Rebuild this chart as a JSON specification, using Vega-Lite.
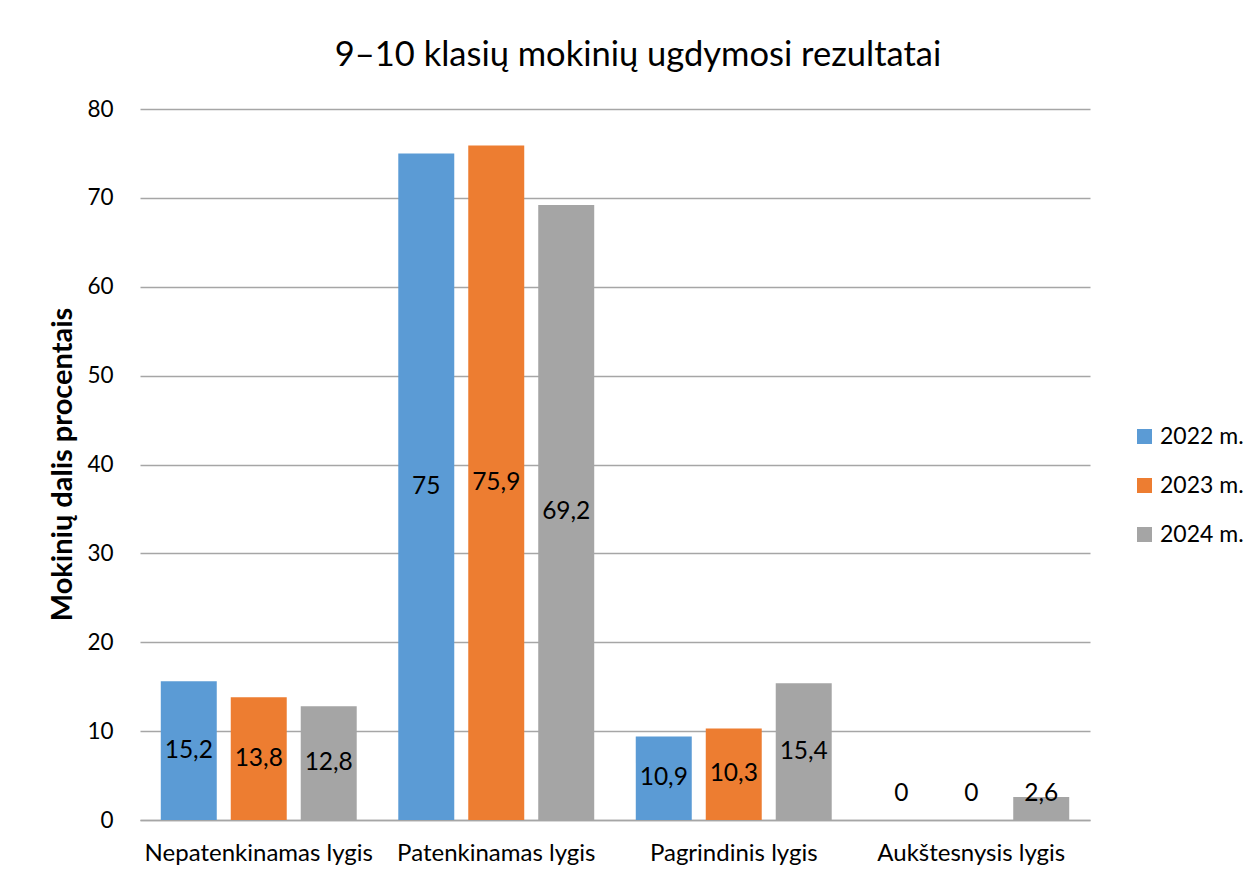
{
  "$schema": "https://vega.github.io/schema/vega-lite/v6.json",
  "width": 950,
  "height": 711,
  "autosize": {"type": "none"},
  "padding": {"left": 140, "top": 109, "right": 169, "bottom": 58},
  "background": "white",
  "config": {
    "font": "Lato",
    "view": {"stroke": null}
  },
  "title": {
    "text": "9–10 klasių mokinių ugdymosi rezultatai",
    "fontSize": 34.5,
    "fontWeight": "normal",
    "color": "#000000",
    "anchor": "middle",
    "baseline": "alphabetic",
    "offset": -2,
    "dx": 23
  },
  "data": {
    "values": [
      {"lygis": "Nepatenkinamas lygis", "metai": "2022 m.", "value": 15.6, "label": "15,2"},
      {"lygis": "Nepatenkinamas lygis", "metai": "2023 m.", "value": 13.8, "label": "13,8"},
      {"lygis": "Nepatenkinamas lygis", "metai": "2024 m.", "value": 12.8, "label": "12,8"},
      {"lygis": "Patenkinamas lygis", "metai": "2022 m.", "value": 75.0, "label": "75"},
      {"lygis": "Patenkinamas lygis", "metai": "2023 m.", "value": 75.9, "label": "75,9"},
      {"lygis": "Patenkinamas lygis", "metai": "2024 m.", "value": 69.2, "label": "69,2"},
      {"lygis": "Pagrindinis lygis", "metai": "2022 m.", "value": 9.4, "label": "10,9"},
      {"lygis": "Pagrindinis lygis", "metai": "2023 m.", "value": 10.3, "label": "10,3"},
      {"lygis": "Pagrindinis lygis", "metai": "2024 m.", "value": 15.4, "label": "15,4"},
      {"lygis": "Aukštesnysis lygis", "metai": "2022 m.", "value": 0, "label": "0"},
      {"lygis": "Aukštesnysis lygis", "metai": "2023 m.", "value": 0, "label": "0"},
      {"lygis": "Aukštesnysis lygis", "metai": "2024 m.", "value": 2.6, "label": "2,6"}
    ]
  },
  "transform": [
    {"calculate": "datum.value < 6 ? 2.9 : datum.value / 2", "as": "labelY"}
  ],
  "encoding": {
    "x": {
      "field": "lygis",
      "type": "nominal",
      "sort": ["Nepatenkinamas lygis", "Patenkinamas lygis", "Pagrindinis lygis", "Aukštesnysis lygis"],
      "scale": {"paddingInner": 0.175, "paddingOuter": 0.0875},
      "axis": {
        "title": null,
        "labelAngle": 0,
        "labelFontSize": 24,
        "labelLimit": 400,
        "labelColor": "#000000",
        "labelPadding": 21,
        "ticks": false,
        "domainColor": "#A6A6A6",
        "domainWidth": 1.5
      }
    },
    "xOffset": {
      "field": "metai",
      "type": "nominal",
      "scale": {"paddingInner": 0.2, "paddingOuter": 0}
    }
  },
  "layer": [
    {
      "mark": {"type": "bar"},
      "encoding": {
        "y": {
          "field": "value",
          "type": "quantitative",
          "scale": {"domain": [0, 80], "nice": false},
          "axis": {
            "values": [0, 10, 20, 30, 40, 50, 60, 70, 80],
            "title": "Mokinių dalis procentais",
            "titleFontSize": 29,
            "titleFontWeight": "bold",
            "titleColor": "#000000",
            "titleAngle": -90,
            "titleBaseline": "middle",
            "titleX": -78,
            "titleY": 355,
            "labelFontSize": 22.5,
            "labelColor": "#000000",
            "labelPadding": 27,
            "ticks": false,
            "domain": false,
            "gridColor": "#A6A6A6",
            "gridWidth": 1.5
          }
        },
        "color": {
          "field": "metai",
          "type": "nominal",
          "scale": {
            "domain": ["2022 m.", "2023 m.", "2024 m."],
            "range": ["#5B9BD5", "#ED7D31", "#A5A5A5"]
          },
          "legend": {
            "title": null,
            "orient": "none",
            "legendX": 993,
            "legendY": 316,
            "symbolType": "square",
            "symbolSize": 225,
            "symbolStrokeWidth": 0,
            "labelFontSize": 23,
            "labelColor": "#000000",
            "labelOffset": 4,
            "rowPadding": 25
          }
        }
      }
    },
    {
      "mark": {"type": "text", "fontSize": 24.5, "color": "#000000", "baseline": "middle", "align": "center"},
      "encoding": {
        "y": {"field": "labelY", "type": "quantitative"},
        "text": {"field": "label", "type": "nominal"}
      }
    }
  ]
}
